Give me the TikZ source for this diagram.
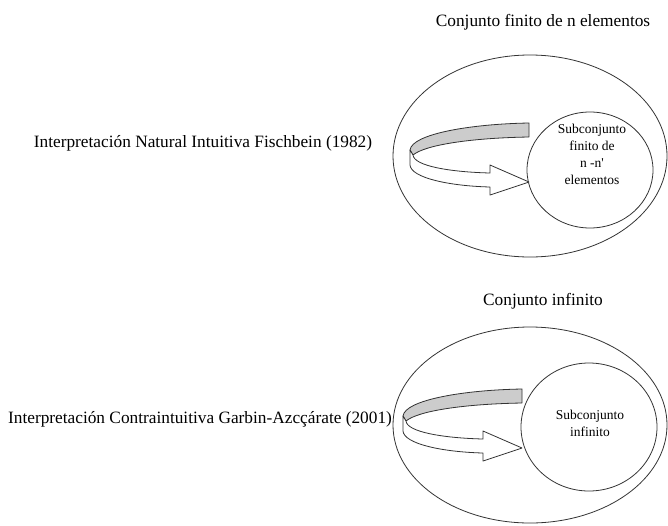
\documentclass[tikz,border=0pt]{standalone}
\usepackage{fontspec}
\setmainfont{Liberation Serif}
\usetikzlibrary{shapes.geometric}
\usetikzlibrary{positioning}
\definecolor{mline}{rgb}{0.2, 0.2, 0.2}
\definecolor{mgray}{rgb}{0.80, 0.80, 0.80}
\tikzset{set/.style = {draw=mline, ellipse, inner sep=0pt, line width=0.8pt},
         label/.style = {font=\fontsize{17.3}{20}\selectfont},
         small/.style = {font=\fontsize{13.5}{17}\selectfont, align=center}}
\newcommand{\ribbonarrow}{%
  \filldraw [mline, fill=mgray, line join=round, line width=0.8pt]
    (529, 123) .. controls (470, 124) and (412, 134) .. (410, 150)
    -- (413, 155) .. controls (425, 145) and (470, 138) .. (529, 137) -- cycle;
  \filldraw [mline, fill=white, line join=round, line width=0.8pt]
    (410, 150) -- (410, 165) .. controls (411, 178) and (450, 186) .. (490, 187)
    -- (490, 195) -- (529, 182) -- (490, 165) -- (490, 173)
    .. controls (450, 172) and (414, 166) .. (413, 155) -- cycle;
}

\begin{document}
\begin{tikzpicture}[x=1pt, y=-1pt]
    \useasboundingbox (0, 0) rectangle (668, 525);

    % finite set
    \node [set, minimum width=274pt, minimum height=202pt] (finset) at (530, 156) {};
    \node [set, minimum width=126pt, minimum height=116pt] (finsub) at (590, 170) {};
    \node [small] (finsubtext) at (592, 154)
      {Subconjunto\\ finito de\\ n -n\textquotesingle\\ elementos};
    \node [label] (fintitle) at (543, 22) {Conjunto finito de n elementos};
    \node [label] (natural) at (203, 143) {Interpretación Natural Intuitiva Fischbein (1982)};
    \ribbonarrow

    % infinite set
    \node [set, minimum width=274pt, minimum height=196pt] (infset) at (530, 425) {};
    \node [set, minimum width=136pt, minimum height=128pt] (infsub) at (589, 427) {};
    \node [small] (infsubtext) at (590, 423) {Subconjunto\\ infinito};
    \node [label] (inftitle) at (543, 301) {Conjunto infinito};
    \node [label] (contra) at (200, 419) {Interpretación Contraintuitiva Garbin-Azcçárate (2001)};
    \begin{scope}[shift={(-7, 266)}]
      \ribbonarrow
    \end{scope}
\end{tikzpicture}
\end{document}
